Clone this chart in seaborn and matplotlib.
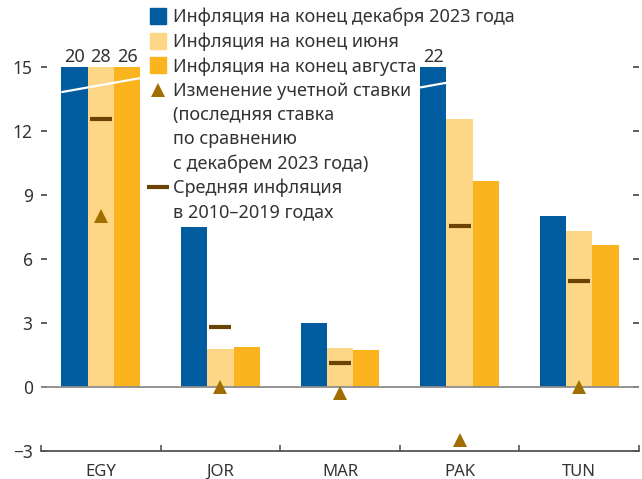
import matplotlib
matplotlib.use("Agg")
import matplotlib.pyplot as plt
from matplotlib.lines import Line2D
from matplotlib.ticker import FixedLocator
import seaborn as sns
import pandas as pd

# values (percent)
countries = ["EGY", "JOR", "MAR", "PAK", "TUN"]
dec_2023 = [20, 7.5, 3.0, 22, 8.0]
jun_2024 = [28, 1.78, 1.83, 12.56, 7.33]
aug_2024 = [26, 1.88, 1.73, 9.66, 6.66]
rate_change = [8.0, 0.0, -0.27, -2.5, 0.0]
avg_2010_2019 = [12.56, 2.83, 1.14, 7.56, 4.97]

series_names = ["Инфляция на конец декабря 2023 года",
                "Инфляция на конец июня",
                "Инфляция на конец августа"]
colors = ["#005b9f", "#fdd686", "#fbb41e"]
tri_color = "#a06f00"
dash_color = "#6b4405"
text_color = "#333333"
cap = 15

sns.set_style("white")
plt.rcParams["font.family"] = ["Noto Sans", "DejaVu Sans"]
plt.rcParams["text.color"] = text_color
plt.rcParams["axes.labelcolor"] = text_color

rows = []
for name, vals in zip(series_names, [dec_2023, jun_2024, aug_2024]):
    for c, v in zip(countries, vals):
        rows.append({"country": c, "series": name, "value": v, "shown": min(v, cap)})
df = pd.DataFrame(rows)

fig = plt.figure(figsize=(6.42, 4.79), dpi=100)
ax = fig.add_axes([41 / 642, 1 - 451 / 479, 598 / 642, 451 / 479])

sns.barplot(data=df, x="country", y="shown", hue="series", hue_order=series_names,
            order=countries, palette=colors, width=0.66, saturation=1,
            linewidth=0, legend=False, ax=ax, zorder=2)

# labels over the cut bars + white break marks
for cont, vals in zip(ax.containers, [dec_2023, jun_2024, aug_2024]):
    labels = [f"{v:g}" if v > cap else "" for v in vals]
    ax.bar_label(cont, labels=labels, padding=1, fontsize=13, color=text_color)

for i, c in enumerate(countries):
    cut = [p for cont, vals in zip(ax.containers, [dec_2023, jun_2024, aug_2024])
           for j, p in enumerate(cont.patches) if j == i and vals[i] > cap]
    if cut:
        x0 = min(p.get_x() for p in cut)
        x1 = max(p.get_x() + p.get_width() for p in cut)
        xm = (x0 + x1) / 2
        ax.plot([x0, x1], [14.15 - (xm - x0), 14.15 + (x1 - xm)], color="white",
                lw=1.6, zorder=3, solid_capstyle="butt")

ax.axhline(0, color="#8c8c8c", lw=1.3, zorder=3)

xpos = list(range(len(countries)))
ax.plot(xpos, avg_2010_2019, linestyle="none", marker="_", markersize=16,
        markeredgewidth=3, color=dash_color, zorder=4)
ax.plot(xpos, rate_change, linestyle="none", marker="^", markersize=10,
        color=tri_color, markeredgewidth=0, zorder=5)

ax.set_xlim(-0.5, len(countries) - 0.5)
ax.set_ylim(-3, 18.14)
ax.set_yticks([-3, 0, 3, 6, 9, 12, 15])
ax.set_yticklabels(["\u22123", "0", "3", "6", "9", "12", "15"])
ax.set_xlabel("")
ax.set_ylabel("")

for s in ["top", "left", "right"]:
    ax.spines[s].set_visible(False)
ax.spines["bottom"].set_color("#555555")
ax.spines["bottom"].set_linewidth(1.3)

ax.tick_params(axis="y", which="major", direction="in", length=4.3, width=1.2,
               color="#444444", left=True, right=True, labelsize=12.5,
               labelcolor=text_color, pad=6)
ax.tick_params(axis="x", which="major", length=0, labelsize=12, labelcolor=text_color, pad=9)
ax.xaxis.set_minor_locator(FixedLocator([k - 0.5 for k in range(len(countries) + 1)]))
ax.tick_params(axis="x", which="minor", direction="in", length=4.3, width=1.2,
               color="#555555", bottom=True)

# legend, one row per text line
blank = Line2D([], [], linestyle="none")
handles = [
    Line2D([], [], linestyle="none", marker="s", markersize=11, color=colors[0]),
    Line2D([], [], linestyle="none", marker="s", markersize=11, color=colors[1]),
    Line2D([], [], linestyle="none", marker="s", markersize=11, color=colors[2]),
    Line2D([], [], linestyle="none", marker="^", markersize=10, color=tri_color, markeredgewidth=0),
    blank, blank, blank,
    Line2D([], [], linestyle="none", marker="_", markersize=16, markeredgewidth=3, color=dash_color),
    blank,
]
labels = [series_names[0], series_names[1], series_names[2],
          "Изменение учетной ставки", "(последняя ставка", "по сравнению",
          "с декабрем 2023 года)", "Средняя инфляция", "в 2010–2019 годах"]
fig.legend(handles, labels, loc="upper left", bbox_to_anchor=(145 / 642, 1 - 8 / 479),
           frameon=False, fontsize=13, handlelength=1.4, handletextpad=0.15,
           labelspacing=0.34, borderpad=0, borderaxespad=0)

fig.savefig("out.png", dpi=100)
